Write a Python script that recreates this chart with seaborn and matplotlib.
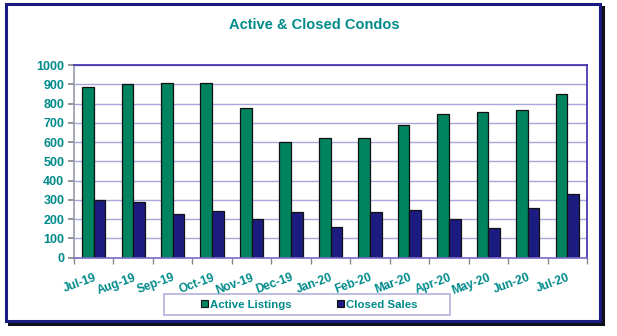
import matplotlib
matplotlib.use("Agg")
import matplotlib.pyplot as plt
import seaborn as sns
import pandas as pd
from matplotlib.patches import Rectangle, Patch
from matplotlib.ticker import MultipleLocator, FixedLocator

months = ["Jul-19", "Aug-19", "Sep-19", "Oct-19", "Nov-19", "Dec-19", "Jan-20",
          "Feb-20", "Mar-20", "Apr-20", "May-20", "Jun-20", "Jul-20"]
active_listings = [885, 902, 907, 907, 777, 599, 622, 620, 690, 744, 754, 769, 851]
closed_sales = [301, 287, 229, 242, 201, 235, 161, 239, 247, 199, 152, 260, 333]
series_names = ["Active Listings", "Closed Sales"]

df = pd.DataFrame({
    "Month": months * 2,
    "Value": active_listings + closed_sales,
    "Series": [series_names[0]] * len(months) + [series_names[1]] * len(months),
})

sns.set_theme(style="white")
plt.rcParams['font.family'] = ['Liberation Sans', 'DejaVu Sans']

GREEN = "#00835f"
NAVY = "#1c1c80"
TEAL = "#008a8a"
GRID = "#a8a8dc"
FRAME = "#1a1a80"

W, H = 617, 336
fig = plt.figure(figsize=(W / 100, H / 100), dpi=100)
fig.patch.set_facecolor("white")


def fig_rect(x0, y0, x1, y1, **kw):
    return Rectangle((x0 / W, 1 - y1 / H), (x1 - x0) / W, (y1 - y0) / H,
                     transform=fig.transFigure, **kw)


# outer frame with dark shadow
shadow = fig_rect(8.5, 6.5, 602.5, 323.5, facecolor="none", edgecolor="#101018",
                  linewidth=2.2, zorder=0)
frame = fig_rect(6, 4, 600, 321, facecolor="white", edgecolor=FRAME,
                 linewidth=2.2, zorder=1)
legbox = fig_rect(164, 294, 450, 315, facecolor="white", edgecolor="#b8b8e0",
                  linewidth=1.3, zorder=2)
fig.patches.extend([shadow, frame, legbox])

ax = fig.add_axes([74 / W, 1 - 257.7 / H, (587 - 74) / W, (257.7 - 65) / H])
ax.set_zorder(3)
ax.set_facecolor("white")

sns.barplot(data=df, x="Month", y="Value", hue="Series", order=months,
            hue_order=series_names, palette=[GREEN, NAVY], width=0.59,
            edgecolor="#111111", linewidth=0.9, saturation=1, ax=ax, legend=False)

ax.set_ylim(0, 1000)
ax.set_xlim(-0.5, len(months) - 0.5)
ax.yaxis.set_major_locator(MultipleLocator(100))
ax.grid(axis="y", color=GRID, linewidth=1.0)
ax.set_axisbelow(True)
for s in ax.spines.values():
    s.set_color("#3a2aa8")
    s.set_linewidth(1.2)
ax.spines["left"].set_color("#9a9ab0")
ax.spines["bottom"].set_color("#7a6ac8")

ax.set_xlabel("")
ax.set_ylabel("")
ax.tick_params(axis="y", which="major", length=4, color="#888888", labelsize=9,
               labelcolor=TEAL, pad=3, left=True)
for t in ax.get_yticklabels():
    t.set_fontweight("bold")

ax.xaxis.set_minor_locator(FixedLocator([i - 0.5 for i in range(len(months) + 1)]))
ax.tick_params(axis="x", which="minor", length=4, color="#888888", bottom=True)
ax.tick_params(axis="x", which="major", length=0, labelsize=8.6, labelcolor=TEAL, pad=10)
ax.set_xticks(range(len(months)))
ax.set_xticklabels(months, rotation=20, ha="right", rotation_mode="anchor",
                   fontweight="bold")

fig.text(314 / W, 1 - 25 / H, "Active & Closed Condos", ha="center", va="center",
         color=TEAL, fontsize=10.5, fontweight="bold")

handles = [Patch(facecolor=GREEN, edgecolor="#111111", linewidth=0.8),
           Patch(facecolor=NAVY, edgecolor="#111111", linewidth=0.8)]
leg = fig.legend(handles, series_names, loc="center", ncol=2,
                 bbox_to_anchor=(309 / W, 1 - 304.5 / H), frameon=False,
                 fontsize=8.2, handlelength=0.65, handleheight=0.65,
                 handletextpad=0.15, columnspacing=4.0, borderpad=0.2)
leg.set_zorder(4)
for t in leg.get_texts():
    t.set_color(TEAL)
    t.set_fontweight("bold")

fig.savefig("out.png", dpi=100, facecolor="white")
